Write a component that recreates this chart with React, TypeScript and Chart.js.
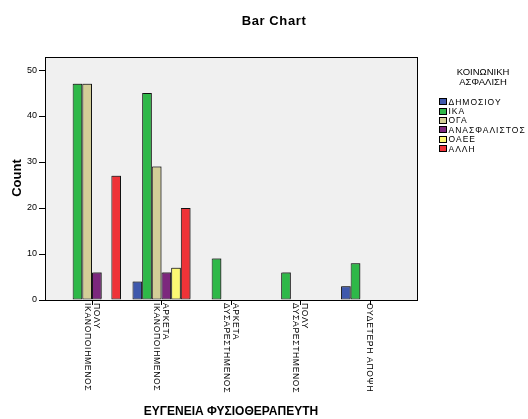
import React, { useEffect, useRef } from "react";
import { Chart, registerables } from "chart.js";

Chart.register(...registerables);

// ---- data ----
const categories: string[][] = [
  ["ΠΟΛΥ", "ΙΚΑΝΟΠΟΙΗΜΕΝΟΣ"],
  ["ΑΡΚΕΤΑ", "ΙΚΑΝΟΠΟΙΗΜΕΝΟΣ"],
  ["ΑΡΚΕΤΑ", "ΔΥΣΑΡΕΣΤΗΜΕΝΟΣ"],
  ["ΠΟΛΥ", "ΔΥΣΑΡΕΣΤΗΜΕΝΟΣ"],
  ["ΟΥΔΕΤΕΡΗ ΑΠΟΨΗ"],
];
const seriesNames = ["ΔΗΜΟΣΙΟΥ", "ΙΚΑ", "ΟΓΑ", "ΑΝΑΣΦΑΛΙΣΤΟΣ", "ΟΑΕΕ", "ΑΛΛΗ"];
const dimosiou = [0, 4, 0, 0, 3];
const ika = [47, 45, 9, 6, 8];
const oga = [47, 29, 0, 0, 0];
const anasfalistos = [6, 6, 0, 0, 0];
const oaee = [0, 7, 0, 0, 0];
const alli = [27, 20, 0, 0, 0];
const yTicks = [0, 10, 20, 30, 40, 50];
const chartTitle = "Bar Chart";
const xTitle = "ΕΥΓΕΝΕΙΑ ΦΥΣΙΟΘΕΡΑΠΕΥΤΗ";
const yTitle = "Count";
const legendTitle = ["ΚΟΙΝΩΝΙΚΗ", "ΑΣΦΑΛΙΣΗ"];

const seriesValues = [dimosiou, ika, oga, anasfalistos, oaee, alli];
const colors = ["#3E58AC", "#2EB848", "#D3CE97", "#7C287D", "#FBF873", "#EF3338"];
const FONT = '"Liberation Sans", Arial, sans-serif';

const decorPlugin = {
  id: "decor",
  beforeDraw(chart: any) {
    const { ctx, chartArea: a } = chart;
    ctx.save();
    ctx.fillStyle = "#ffffff";
    ctx.fillRect(0, 0, chart.width, chart.height);
    ctx.fillStyle = "#F0F0F0";
    ctx.fillRect(a.left, a.top, a.right - a.left, a.bottom - a.top);
    ctx.restore();
  },
  beforeDatasetsDraw(chart: any) {
    const ctx = chart.ctx;
    ctx.save();
    ctx.shadowColor = "rgba(0,0,0,0.35)";
    ctx.shadowOffsetX = 1;
    ctx.shadowOffsetY = -1;
    ctx.shadowBlur = 0.5;
  },
  afterDatasetsDraw(chart: any) {
    chart.ctx.restore();
  },
  afterDraw(chart: any) {
    const { ctx, chartArea: a } = chart;
    const xs = chart.scales.x;
    ctx.save();
    // frame
    ctx.strokeStyle = "#000";
    ctx.lineWidth = 1;
    ctx.strokeRect(a.left + 0.5, a.top + 0.5, a.right - a.left - 1, a.bottom - a.top);

    // x ticks and labels
    ctx.fillStyle = "#000";
    ctx.font = `8.5px ${FONT}`;
    (ctx as any).letterSpacing = "0.7px";
    categories.forEach((lines, i) => {
      const px = Math.round(xs.getPixelForValue(i)) + 0.5;
      ctx.beginPath();
      ctx.moveTo(px, a.bottom);
      ctx.lineTo(px, a.bottom + 5);
      ctx.stroke();
      ctx.save();
      ctx.translate(px, a.bottom + 3);
      ctx.rotate(Math.PI / 2);
      ctx.textAlign = "left";
      ctx.textBaseline = "middle";
      const n = lines.length;
      lines.forEach((t, j) => {
        const off = (j - (n - 1) / 2) * 9 + 1;
        ctx.fillText(t, 0, off);
      });
      ctx.restore();
    });

    // titles
    (ctx as any).letterSpacing = "0.6px";
    ctx.textAlign = "center";
    ctx.textBaseline = "middle";
    ctx.font = `bold 13px ${FONT}`;
    ctx.fillText(chartTitle, 274, 21);
    (ctx as any).letterSpacing = "0px";
    ctx.font = `bold 12px ${FONT}`;
    ctx.fillText(xTitle, 231, 412);
    ctx.save();
    ctx.translate(17.5, 178);
    ctx.rotate(-Math.PI / 2);
    ctx.font = `bold 13px ${FONT}`;
    ctx.fillText(yTitle, 0, 0);
    ctx.restore();

    // legend
    ctx.font = `9.5px ${FONT}`;
    ctx.textAlign = "center";
    ctx.fillText(legendTitle[0], 483, 72);
    ctx.fillText(legendTitle[1], 483, 82);
    ctx.font = `8.5px ${FONT}`;
    (ctx as any).letterSpacing = "1px";
    ctx.textAlign = "left";
    seriesNames.forEach((name, i) => {
      const cy = 101.7 + i * 9.4;
      ctx.fillStyle = colors[i];
      ctx.fillRect(439, Math.round(cy - 3.5), 8, 7);
      ctx.strokeStyle = "#000";
      ctx.strokeRect(439.5, Math.round(cy - 3.5) + 0.5, 7, 6);
      ctx.fillStyle = "#000";
      ctx.fillText(name, 448.5, cy + 0.5);
    });
    ctx.restore();
  },
};

export default function App() {
  const ref = useRef<HTMLCanvasElement | null>(null);
  useEffect(() => {
    if (!ref.current) return;
    const datasets = seriesNames.map((name, s) => ({
      label: name,
      data: seriesValues[s].map((v, i) => ({ x: i, y: v })),
      backgroundColor: colors[s],
      borderColor: "#1a1a1a",
      borderWidth: 1,
      borderSkipped: false as any,
      inflateAmount: 0,
      barPercentage: 1,
      categoryPercentage: 0.835,
    }));
    const chart = new Chart(ref.current, {
      type: "bar",
      data: { datasets },
      plugins: [decorPlugin],
      options: {
        animation: false,
        responsive: false,
        devicePixelRatio: 1,
        layout: { padding: { top: 57, right: 110, left: 0, bottom: 0 } },
        plugins: { legend: { display: false }, tooltip: { enabled: false }, title: { display: false } },
        scales: {
          x: {
            type: "linear",
            position: "bottom",
            min: -0.676,
            max: 4.691,
            offset: false,
            grid: { display: false },
            border: { display: false },
            ticks: { display: false },
            afterBuildTicks: (scale: any) => {
              scale.ticks = categories.map((_, i) => ({ value: i }));
            },
            afterFit: (scale: any) => {
              scale.height = 119;
            },
          },
          y: {
            type: "linear",
            min: 0,
            max: 52.83,
            grid: { drawOnChartArea: false, drawTicks: true, tickLength: 6, color: "#000" },
            border: { display: false },
            ticks: {
              color: "#000",
              font: { family: FONT, size: 9 },
              padding: 2,
            },
            afterBuildTicks: (scale: any) => {
              scale.ticks = yTicks.map((v) => ({ value: v }));
            },
            afterFit: (scale: any) => {
              scale.width = 45;
            },
          },
        },
      } as any,
    });
    return () => chart.destroy();
  }, []);
  return (
    <div style={{ position: "absolute", left: 0, top: 0, width: 528, height: 419, background: "#fff" }}>
      <canvas ref={ref} width={528} height={419} style={{ display: "block", width: 528, height: 419 }} />
    </div>
  );
}
